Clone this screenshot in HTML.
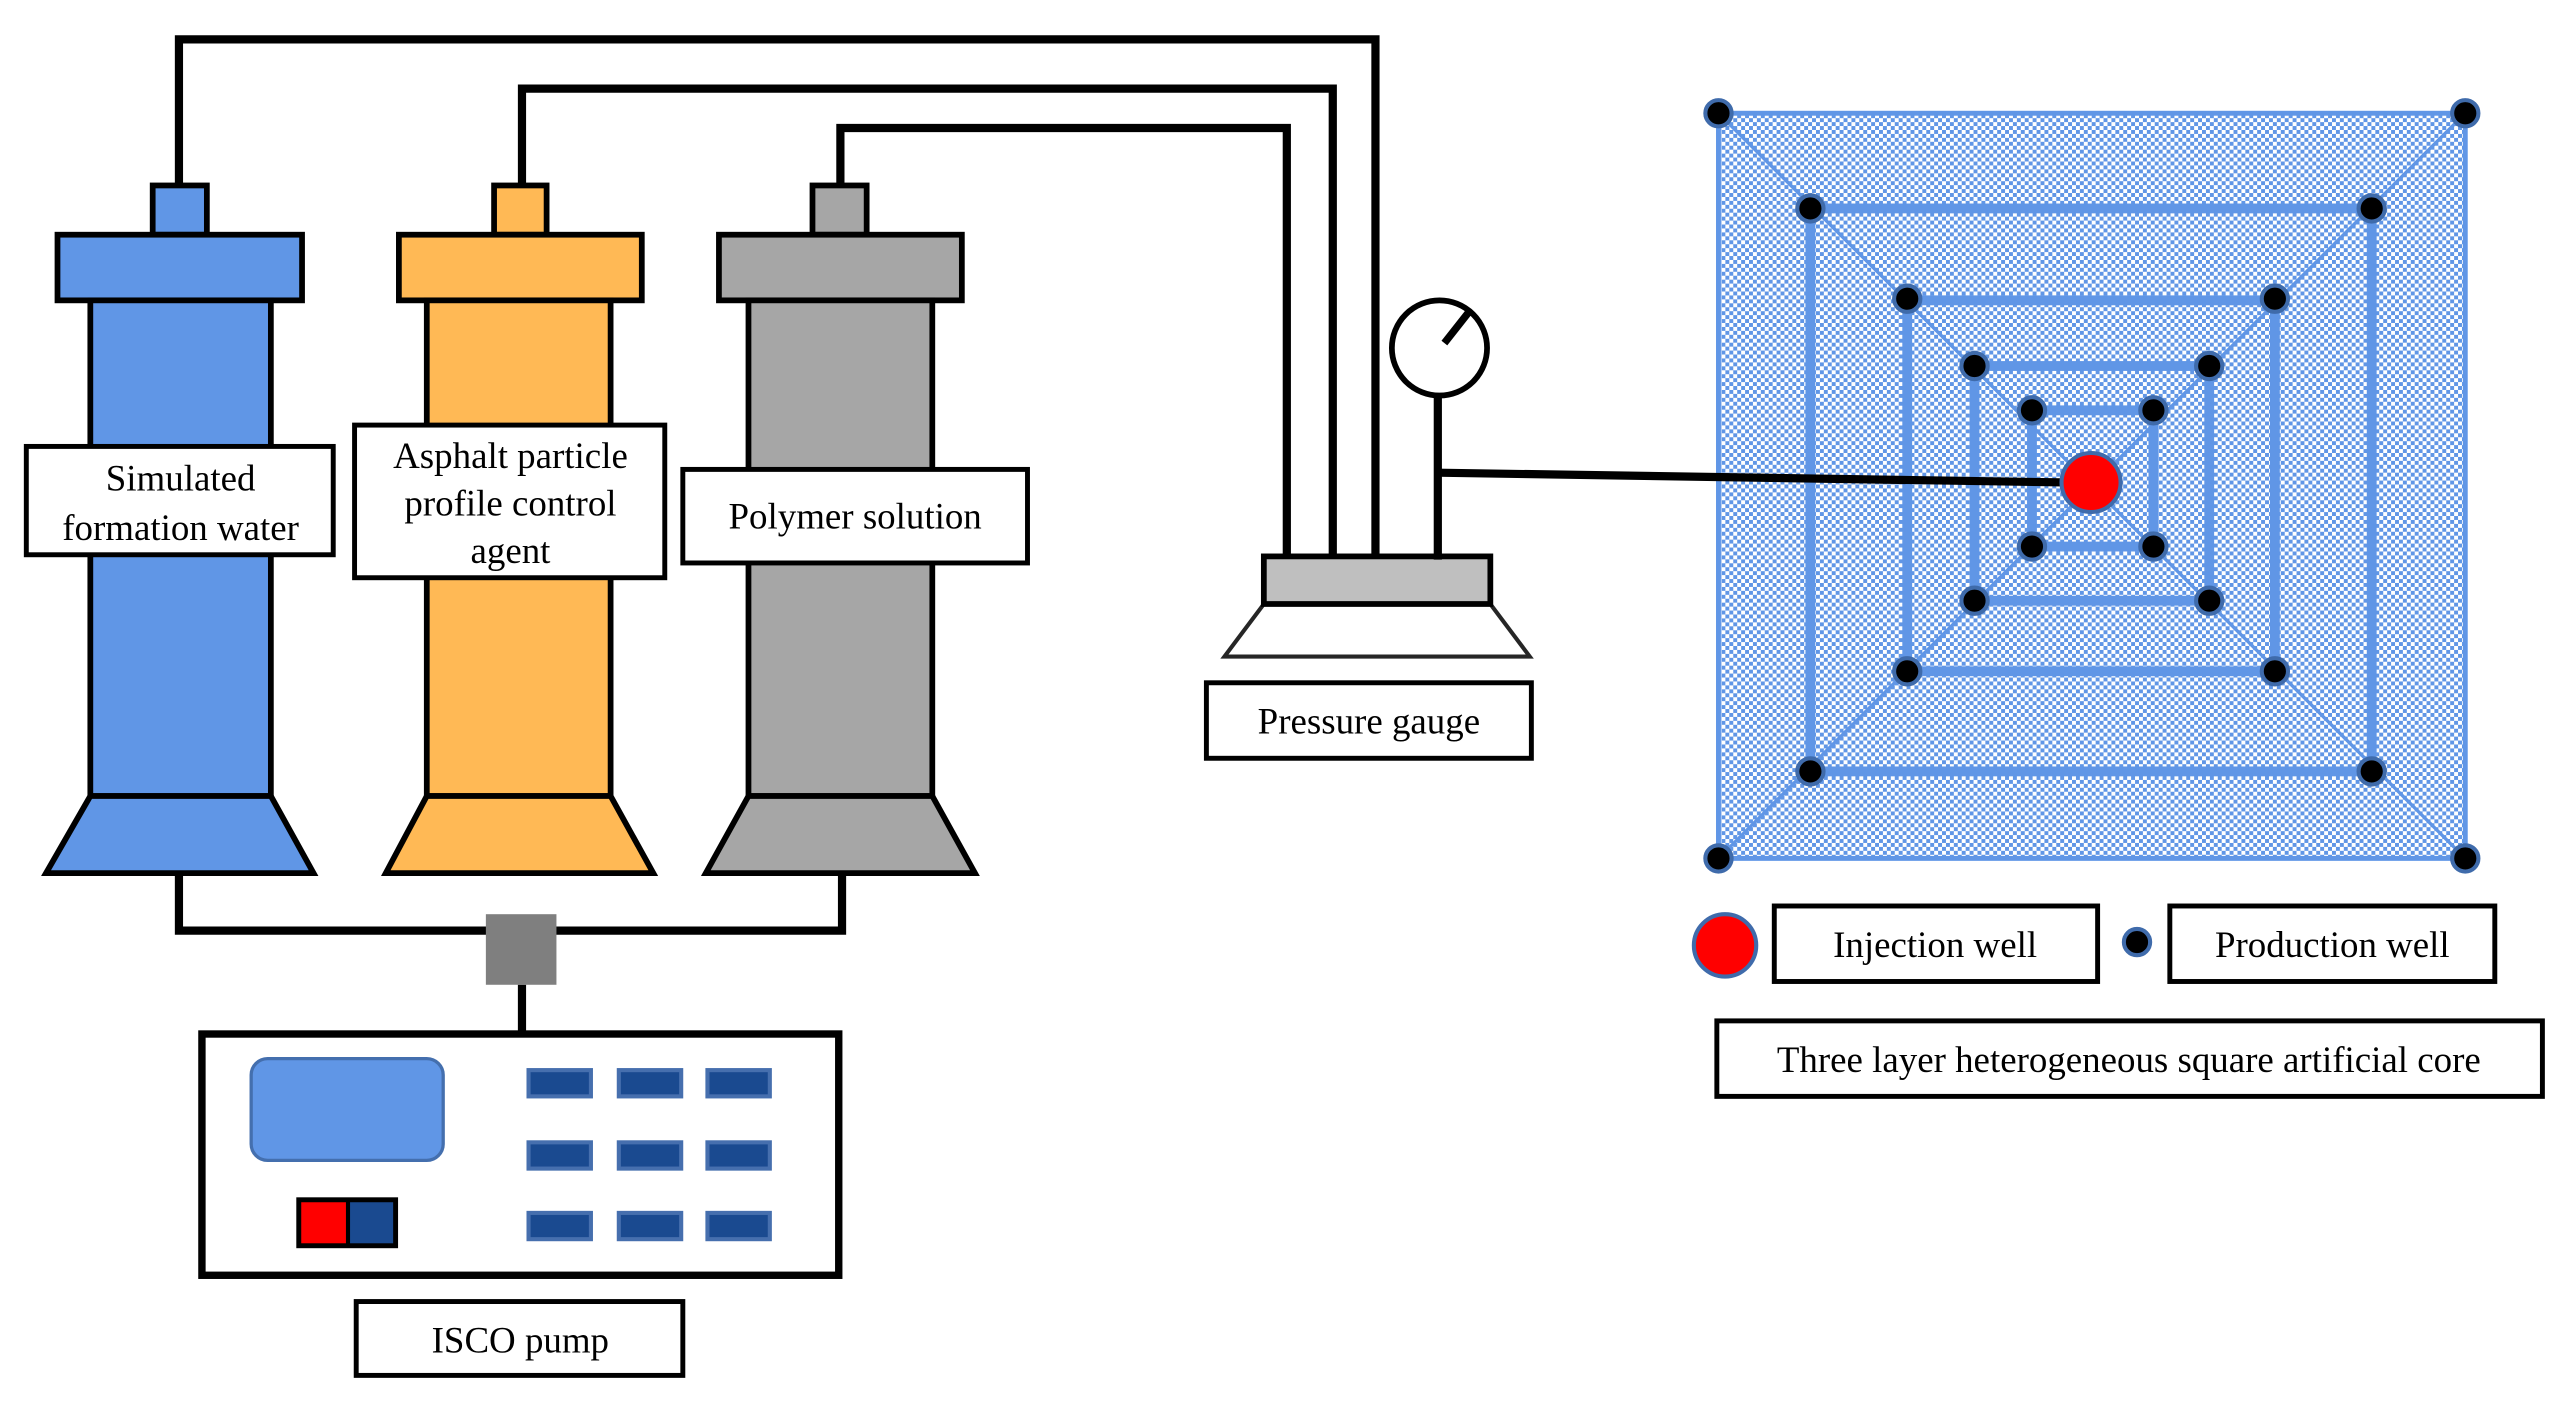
<!DOCTYPE html>
<html><head><meta charset="utf-8"><style>
html,body{margin:0;padding:0;background:#fff;}
svg{display:block;}
text{font-family:"Liberation Serif",serif;font-size:22.5px;fill:#000;text-anchor:middle;}
</style></head><body>
<svg width="2572" height="1412" viewBox="0 0 1567 860.3" xmlns="http://www.w3.org/2000/svg">
<defs>
<pattern id="chk" width="4.8" height="4.8" patternUnits="userSpaceOnUse">
<rect width="4.8" height="4.8" fill="#fff"/>
<rect width="2.4" height="2.4" fill="#6096e6"/>
<rect x="2.4" y="2.4" width="2.4" height="2.4" fill="#6096e6"/>
</pattern>
</defs>
<g fill="none" stroke="#000" stroke-width="5">
<polyline points="109,113 109,24 838,24 838,340"/>
<polyline points="318,113 318,54 812,54 812,340"/>
<polyline points="512,113 512,78 784,78 784,340"/>
<polyline points="109,532 109,567 513,567 513,532"/>
<line x1="318" y1="600" x2="318" y2="630"/>
</g>
<g stroke="#000" stroke-width="3.5">
<rect x="93" y="113" width="33" height="30" fill="#6096e6"/>
<rect x="35" y="143" width="149" height="40" fill="#6096e6"/>
<rect x="55" y="183" width="110" height="302" fill="#6096e6"/>
<polygon points="55,485 165,485 191,532 28,532" fill="#6096e6"/>
<rect x="301" y="113" width="32" height="30" fill="#ffb955"/>
<rect x="243" y="143" width="148" height="40" fill="#ffb955"/>
<rect x="260" y="183" width="112" height="302" fill="#ffb955"/>
<polygon points="260,485 372,485 398,532 235,532" fill="#ffb955"/>
<rect x="495" y="113" width="33" height="30" fill="#a6a6a6"/>
<rect x="438" y="143" width="148" height="40" fill="#a6a6a6"/>
<rect x="456" y="183" width="112" height="302" fill="#a6a6a6"/>
<polygon points="456,485 568,485 594,532 430,532" fill="#a6a6a6"/>
</g>
<rect x="296" y="557" width="43" height="43" fill="#7f7f7f"/>
<g fill="#fff" stroke="#000" stroke-width="3">
<rect x="16" y="272" width="187" height="66"/>
<rect x="216" y="259" width="189" height="93"/>
<rect x="416" y="286" width="210" height="57"/>
<rect x="217" y="793" width="199" height="45"/>
<rect x="735" y="416" width="198" height="46"/>
<rect x="1081" y="552" width="197" height="46"/>
<rect x="1322" y="552" width="198" height="46"/>
<rect x="1046" y="622" width="503" height="46"/>
</g>
<text x="110" y="299">Simulated</text>
<text x="110" y="329">formation water</text>
<text x="311" y="285">Asphalt particle</text>
<text x="311" y="314">profile control</text>
<text x="311" y="343">agent</text>
<text x="521" y="322">Polymer solution</text>
<text x="317" y="824">ISCO pump</text>
<text x="834" y="447">Pressure gauge</text>
<text x="1179" y="583">Injection well</text>
<text x="1421" y="583">Production well</text>
<text x="1297" y="653">Three layer heterogeneous square artificial core</text>
<rect x="123" y="630" width="388" height="147" fill="#fff" stroke="#000" stroke-width="4.5"/>
<rect x="153" y="645" width="117" height="62" rx="10" fill="#6096e6" stroke="#446fae" stroke-width="2"/>
<g fill="#1a4a90" stroke="#466fae" stroke-width="2.5">
<rect x="322" y="652" width="38" height="16"/><rect x="377" y="652" width="38" height="16"/><rect x="431" y="652" width="38" height="16"/>
<rect x="322" y="696" width="38" height="16"/><rect x="377" y="696" width="38" height="16"/><rect x="431" y="696" width="38" height="16"/>
<rect x="322" y="739" width="38" height="16"/><rect x="377" y="739" width="38" height="16"/><rect x="431" y="739" width="38" height="16"/>
</g>
<rect x="182" y="731" width="30" height="28" fill="#f00"/>
<rect x="212" y="731" width="29" height="28" fill="#1a4a90"/>
<rect x="182" y="731" width="59" height="28" fill="none" stroke="#000" stroke-width="3"/>
<line x1="212" y1="731" x2="212" y2="759" stroke="#000" stroke-width="2.5"/>
<polygon points="770,368 908,368 932,400 746,400" fill="#fff" stroke="#262626" stroke-width="2.5"/>
<rect x="770" y="339" width="138" height="29" fill="#bfbfbf" stroke="#000" stroke-width="3.5"/>
<line x1="876" y1="241" x2="876" y2="341" stroke="#000" stroke-width="5"/>
<circle cx="877" cy="212" r="29" fill="#fff" stroke="#000" stroke-width="3.5"/>
<line x1="880" y1="209" x2="895" y2="190" stroke="#000" stroke-width="4.5"/>
<rect x="1047" y="69" width="455" height="454" fill="url(#chk)" stroke="#6096e6" stroke-width="3"/>
<g stroke="#6096e6" stroke-width="2" fill="none">
<line x1="1047" y1="69" x2="1502" y2="523"/>
<line x1="1502" y1="69" x2="1047" y2="523"/>
</g>
<g stroke="#6096e6" stroke-width="6" fill="none">
<rect x="1103" y="127" width="342" height="343"/>
<rect x="1162" y="183" width="224" height="226"/>
<rect x="1203" y="223" width="143" height="143"/>
<rect x="1238" y="250" width="74" height="83"/>
</g>
<line x1="876" y1="288" x2="1262" y2="294" stroke="#000" stroke-width="5"/>
<g fill="#000" stroke="#3f6bab" stroke-width="2.5">
<circle cx="1047" cy="69" r="8"/><circle cx="1502" cy="69" r="8"/><circle cx="1047" cy="523" r="8"/><circle cx="1502" cy="523" r="8"/>
<circle cx="1103" cy="127" r="8"/><circle cx="1445" cy="127" r="8"/><circle cx="1103" cy="470" r="8"/><circle cx="1445" cy="470" r="8"/>
<circle cx="1162" cy="182" r="8"/><circle cx="1386" cy="182" r="8"/><circle cx="1162" cy="409" r="8"/><circle cx="1386" cy="409" r="8"/>
<circle cx="1203" cy="223" r="8"/><circle cx="1346" cy="223" r="8"/><circle cx="1203" cy="366" r="8"/><circle cx="1346" cy="366" r="8"/>
<circle cx="1238" cy="250" r="8"/><circle cx="1312" cy="250" r="8"/><circle cx="1238" cy="333" r="8"/><circle cx="1312" cy="333" r="8"/>
<circle cx="1302" cy="574" r="8"/>
</g>
<circle cx="1274" cy="294" r="18" fill="#f00" stroke="#3f6bab" stroke-width="2.5"/>
<circle cx="1051" cy="576" r="19" fill="#f00" stroke="#3f6bab" stroke-width="2.5"/>
</svg>
</body></html>
